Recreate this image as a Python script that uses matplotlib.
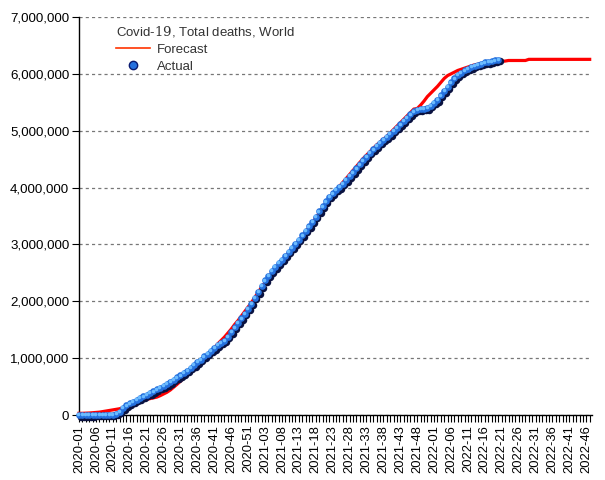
import matplotlib
matplotlib.use('Agg')
import matplotlib.pyplot as plt
import matplotlib.transforms as mtransforms
from matplotlib.lines import Line2D
from matplotlib.ticker import FuncFormatter, MultipleLocator

plt.rcParams['font.family'] = ['Liberation Sans', 'DejaVu Sans']
plt.rcParams['mathtext.fontset'] = 'dejavuserif'

# ISO weeks per year shown on the axis
years = [2020, 2021, 2022]
weeks_in_year = [53, 52, 48]

# Total deaths, thousands, one value per week from 2020-01
actual = [0, 0, 0, 0, 1, 2, 3, 3, 4, 5,
          8, 20, 60, 120, 170, 205, 235, 270, 300, 330,
          360, 385, 415, 450, 480, 510, 545, 580, 620, 660,
          700, 740, 780, 835, 880, 930, 975, 1030, 1080, 1130,
          1180, 1230, 1270, 1310, 1380, 1460, 1540, 1620, 1700, 1780,
          1870, 1960, 2060, 2160, 2270, 2370, 2450, 2530, 2600, 2670,
          2730, 2800, 2870, 2940, 3010, 3080, 3160, 3240, 3320, 3400,
          3490, 3580, 3670, 3760, 3840, 3900, 3960, 4010, 4070, 4130,
          4200, 4270, 4340, 4410, 4480, 4540, 4610, 4670, 4730, 4790,
          4840, 4890, 4940, 5000, 5050, 5110, 5170, 5230, 5290, 5340,
          5370, 5380, 5390, 5400, 5440, 5490, 5540, 5620, 5700, 5770,
          5850, 5920, 5980, 6020, 6060, 6090, 6120, 6140, 6160, 6180,
          6200, 6210, 6220, 6235, 6250]

forecast = [30, 30, 32, 35, 40, 45, 50, 60, 70, 80,
            90, 100, 110, 130, 160, 190, 215, 235, 250, 262,
            275, 288, 300, 315, 340, 370, 400, 440, 490, 540,
            595, 650, 710, 780, 845, 905, 965, 1015, 1060, 1120,
            1180, 1250, 1310, 1370, 1440, 1510, 1590, 1660, 1740, 1820,
            1900, 1980, 2070, 2160, 2250, 2330, 2410, 2490, 2570, 2640,
            2710, 2780, 2850, 2920, 2990, 3060, 3140, 3220, 3300, 3380,
            3460, 3550, 3640, 3730, 3810, 3880, 3950, 4020, 4090, 4160,
            4230, 4300, 4370, 4440, 4510, 4570, 4630, 4690, 4750, 4800,
            4850, 4900, 4960, 5020, 5080, 5140, 5200, 5260, 5320, 5380,
            5390, 5450, 5520, 5600, 5660, 5720, 5780, 5850, 5920, 5970,
            6000, 6030, 6060, 6080, 6100, 6120, 6140, 6160, 6170, 6180,
            6190, 6200, 6210, 6210, 6215, 6220, 6225, 6235, 6235, 6235,
            6235, 6235, 6235, 6255, 6255, 6255, 6255, 6255, 6255, 6255,
            6255, 6255, 6255, 6255, 6255, 6255, 6255, 6255, 6255, 6255,
            6255, 6255]

week_labels = []
for y, n in zip(years, weeks_in_year):
    for w in range(1, n + 1):
        week_labels.append(f"{y}-{w:02d}")

fig = plt.figure(figsize=(6.05, 4.8), dpi=100)
ax = fig.add_axes([0.1306, 0.1354, 0.848, 0.8292])

x_act = list(range(len(actual)))
x_fc = list(range(len(forecast)))
act_vals = [v * 1000 for v in actual]
fc_vals = [v * 1000 for v in forecast]

ax.plot(x_fc, fc_vals, color='#ff0000', lw=2.3, zorder=3, solid_joinstyle='miter', clip_on=False)

# shaded "ball" markers: dark shadow, blue body, light highlight
shadow = mtransforms.offset_copy(ax.transData, fig=fig, x=1.6, y=-1.6, units='dots')
hilite = mtransforms.offset_copy(ax.transData, fig=fig, x=-0.7, y=0.7, units='dots')
ax.plot(x_act, act_vals, 'o', ms=5.4, color='#0a1240', mec='none', transform=shadow, zorder=4, clip_on=False)
ax.plot(x_act, act_vals, 'o', ms=4.8, color='#2470de', mec='none', zorder=5, clip_on=False)
ax.plot(x_act, act_vals, 'o', ms=2.6, color='#6cbcff', mec='none', transform=hilite, zorder=6, clip_on=False)

ax.set_ylim(0, 7000000)
ax.set_xlim(0, 151.7)
ax.yaxis.set_major_locator(MultipleLocator(1000000))
ax.yaxis.set_major_formatter(FuncFormatter(lambda v, p: f"{int(v):,}"))
ax.grid(axis='y', linestyle=(0, (2.5, 2.5)), color='#777777', lw=0.9)
ax.set_axisbelow(True)

major = list(range(0, 152, 5))
ax.set_xticks(major)
ax.set_xticklabels([week_labels[i] for i in major], rotation=90)
ax.set_xticks(list(range(0, 152)), minor=True)
ax.tick_params(axis='x', which='both', length=5, width=0.8, labelsize=9.4, pad=2)
ax.tick_params(axis='y', length=5, width=0.8, labelsize=9.6, pad=2)

for s in ['top', 'right']:
    ax.spines[s].set_visible(False)
ax.spines['left'].set_linewidth(1.0)
ax.spines['bottom'].set_linewidth(1.0)

handles = [Line2D([], [], color='#ff3300', lw=1.2),
           Line2D([], [], ls='none', marker='o', ms=6, color='#2470de', mec='#0a1a70')]
leg = ax.legend(handles, ['Forecast', 'Actual'], title=r'Covid-$\mathrm{19}$, Total deaths, World',
                loc='upper left', bbox_to_anchor=(0.062, 0.995), frameon=False,
                fontsize=9.5, title_fontsize=9.5, handlelength=2.6, handletextpad=0.5,
                labelspacing=0.35, borderaxespad=0)
leg._legend_box.align = 'left'
for t in leg.get_texts():
    t.set_color('#333333')
leg.get_title().set_color('#333333')

fig.savefig('out.png', dpi=100)
